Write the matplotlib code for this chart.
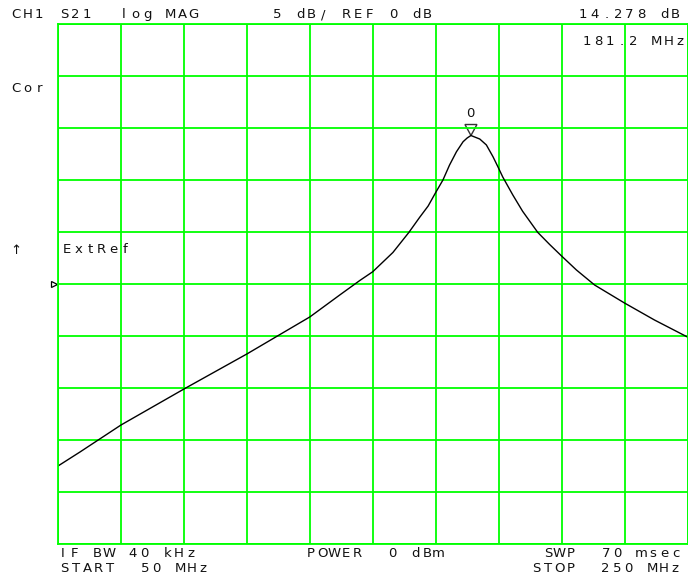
import numpy as np
import matplotlib.pyplot as plt
from matplotlib.patches import Polygon

# S21 trace, log magnitude (MHz, dB)
freq_mhz = [50.0, 57.0, 70.0, 90.0, 110.0, 130.0, 139.5, 145.9, 150.0, 156.4,
            161.5, 164.9, 167.6, 170.0, 172.3, 174.4, 176.6, 178.7, 180.0, 181.2,
            184.0, 186.1, 188.2, 189.8, 191.3, 194.5, 197.6, 202.4, 206.2, 210.0,
            214.7, 220.5, 230.0, 239.5, 250.0]
s21_db = [-17.5, -16.15, -13.56, -10.1, -6.73, -3.17, -1.06, 0.34, 1.18, 3.03,
          4.97, 6.41, 7.5, 8.8, 10.0, 11.44, 12.72, 13.68, 14.04, 14.278,
          13.94, 13.37, 12.24, 11.25, 10.29, 8.56, 7.0, 4.97, 3.8,
          2.69, 1.35, -0.1, -1.83, -3.46, -5.1]

marker_freq = 181.2
marker_db = 14.278

start_mhz, stop_mhz = 50, 250
ref_db = 0
scale_db = 5
grid_green = '#00ff00'

fig = plt.figure(figsize=(6.88, 5.76), dpi=100)

# graticule: 10 x 10 divisions
ax = fig.add_axes([58 / 688, 32 / 576, 629.5 / 688, 520 / 576])
ax.set_xlim(start_mhz, stop_mhz)
ax.set_ylim(ref_db - 5 * scale_db, ref_db + 5 * scale_db)
ax.set_xticks(np.linspace(start_mhz, stop_mhz, 11))
ax.set_yticks(np.arange(ref_db - 5 * scale_db, ref_db + 5 * scale_db + 1, scale_db))
ax.grid(color=grid_green, lw=1.3)
ax.tick_params(length=0, labelbottom=False, labelleft=False)
for sp in ax.spines.values():
    sp.set_color(grid_green)
    sp.set_linewidth(1.3)

ax.plot(freq_mhz, s21_db, color='black', lw=1.0)

# active marker: open triangle with its tip on the trace
dx = (stop_mhz - start_mhz) * 6 / 630
dy = 10 * scale_db * 11 / 520
tri = Polygon([[marker_freq, marker_db], [marker_freq - dx, marker_db + dy],
               [marker_freq + dx, marker_db + dy]], closed=True,
              fill=False, edgecolor='#333333', lw=1.0, clip_on=False)
ax.add_patch(tri)

# reference position arrow on the left edge
ax.plot([-0.007], [ref_db], marker='>', markersize=5, mfc='white', mec='black',
        mew=0.9, transform=ax.get_yaxis_transform(), clip_on=False)

# annotation layer in pixel coordinates
txt = fig.add_axes([0, 0, 1, 1], facecolor='none')
txt.set_xlim(0, 688)
txt.set_ylim(576, 0)
txt.axis('off')


def hp(x, y, s, pitch=11.6):
    # fixed pitch lettering, one glyph per cell
    for i, ch in enumerate(s):
        if ch != ' ':
            txt.text(x + i * pitch, y, ch, ha='center', va='baseline',
                     fontsize=9.5, family='DejaVu Sans', color='#111111')


hp(16, 18, 'CH1')
hp(64, 18, 'S21')
hp(124, 18, 'log MAG')
hp(277, 18, '5 dB/ REF 0 dB')
hp(583, 18, '14.278 dB')
hp(587, 45, '181.2 MHz')
hp(16, 92, 'Cor')
hp(16, 254, '↑')
hp(67, 253, 'ExtRef')
hp(470, 117, '0')
hp(63, 557, 'IF BW 40 kHz')
hp(311, 557, 'POWER  0 dBm')
hp(548, 557, 'SWP  70 msec')
hp(64, 572, 'START  50 MHz')
hp(536, 572, 'STOP  250 MHz')

plt.savefig('out.png', dpi=100)
